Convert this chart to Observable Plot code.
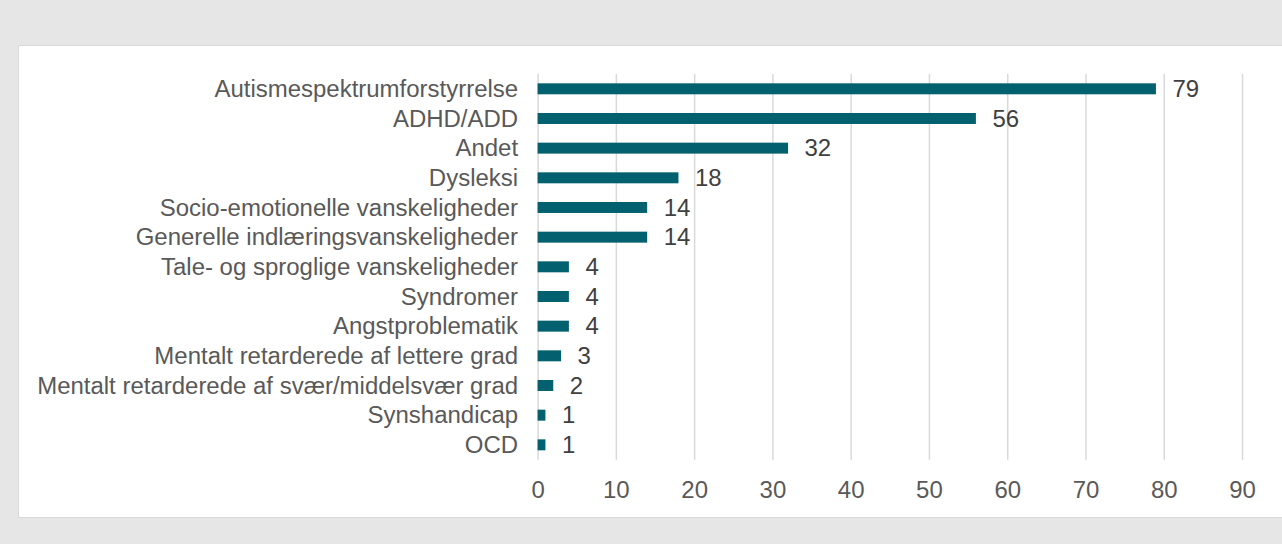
<!DOCTYPE html>
<html>
<head>
<meta charset="utf-8">
<script src="https://cdn.jsdelivr.net/npm/d3@7"></script>
<script src="https://cdn.jsdelivr.net/npm/@observablehq/plot@0.6"></script>
<style>
  html, body { margin: 0; padding: 0; background: #e6e6e6; width: 1282px; height: 544px; overflow: hidden; }
  #panel { position: absolute; left: 18px; top: 45px; width: 1264px; height: 473px; background: #fff;
           border-left: 1.5px solid #d9d9d9; border-top: 1.5px solid #d9d9d9; border-bottom: 1.5px solid #d9d9d9; box-sizing: border-box; }
  #panel svg { position: absolute; left: -1.5px; top: -1.5px; }
</style>
</head>
<body>
<div id="panel"></div>
<script>
const categories = [
  "Autismespektrumforstyrrelse",
  "ADHD/ADD",
  "Andet",
  "Dysleksi",
  "Socio-emotionelle vanskeligheder",
  "Generelle indlæringsvanskeligheder",
  "Tale- og sproglige vanskeligheder",
  "Syndromer",
  "Angstproblematik",
  "Mentalt retarderede af lettere grad",
  "Mentalt retarderede af svær/middelsvær grad",
  "Synshandicap",
  "OCD"
];
const values = [79, 56, 32, 18, 14, 14, 4, 4, 4, 3, 2, 1, 1];
const xTicks = [0, 10, 20, 30, 40, 50, 60, 70, 80, 90];

const data = categories.map((c, i) => ({category: c, value: values[i]}));

const chart = Plot.plot({
  width: 1264,
  height: 473,
  marginLeft: 520,
  marginRight: 39,
  marginTop: 29,
  marginBottom: 58,
  style: {fontFamily: "'Liberation Sans', Arial, sans-serif", fontSize: "24px", color: "#595959", background: "transparent"},
  x: {domain: [0, 90], ticks: xTicks, label: null},
  y: {domain: categories, label: null, paddingInner: 0.63, paddingOuter: 0.315, round: false},
  marks: [
    Plot.gridX(xTicks, {stroke: "#d9d9d9", strokeOpacity: 1, strokeWidth: 1.5}),
    Plot.barX(data, {x: "value", y: "category", fill: "#03616f"}),
    Plot.text(data, {x: "value", y: "category", text: d => String(d.value), dx: 16, textAnchor: "start", fill: "#404040", fontSize: 24}),
    Plot.axisX({ticks: xTicks, tickSize: 0, tickPadding: 21, label: null, fontSize: 24}),
    Plot.axisY({tickSize: 0, tickPadding: 20, label: null, fontSize: 24})
  ]
});
document.getElementById("panel").appendChild(chart);
</script>
</body>
</html>
